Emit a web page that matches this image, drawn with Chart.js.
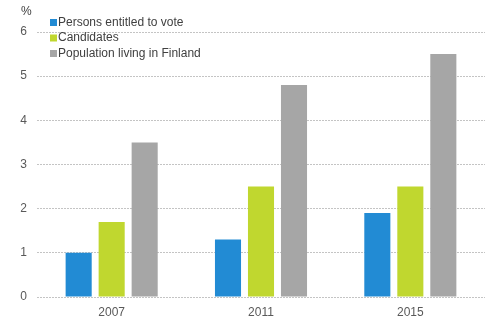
<!DOCTYPE html>
<html lang="en">
<head>
<meta charset="UTF-8">
<script src="https://cdn.jsdelivr.net/npm/chart.js"></script>
<title>Chart</title>
<style>
  html, body { margin: 0; padding: 0; background: #fff; }
  #grafico { width: 499px; height: 321px; }
</style>
</head>
<body>
<div id="grafico"><canvas id="barra" width="499" height="321"></canvas></div>
<script>
var anos = ['2007', '2011', '2015'];
var votantes = [1.0, 1.3, 1.9];
var candidatos = [1.7, 2.5, 2.5];
var populacao = [3.5, 4.8, 5.5];
var nomes = ['Persons entitled to vote', 'Candidates', 'Population living in Finland'];
var cores = ['#228bd4', '#c0d72f', '#a6a6a6'];
var yTicks = [0, 1, 2, 3, 4, 5, 6];

var fonte = "'Liberation Sans', Arial, sans-serif";

// legenda dentro da area do grafico + o "%"
var legendaPlugin = {
    id: 'legendaDentro',
    afterDraw: function (chart) {
        var ctx = chart.ctx;
        ctx.save();
        ctx.font = '12px ' + fonte;
        ctx.textBaseline = 'middle';
        ctx.fillStyle = '#404040';
        ctx.fillText('%', 21, 12);
        chart.data.datasets.forEach(function (ds, i) {
            var y = 22 + i * 15.5;
            ctx.fillStyle = ds.backgroundColor;
            ctx.fillRect(50, y - 3, 7, 7);
            ctx.fillStyle = '#404040';
            ctx.fillText(ds.label, 58, y + 0.5);
        });
        ctx.restore();
    }
};

var ctx = document.getElementById('barra').getContext('2d');
new Chart(ctx, {
    type: 'bar',
    data: {
        labels: anos,
        datasets: [
            { label: nomes[0], data: votantes, backgroundColor: cores[0] },
            { label: nomes[1], data: candidatos, backgroundColor: cores[1] },
            { label: nomes[2], data: populacao, backgroundColor: cores[2] }
        ]
    },
    options: {
        responsive: false,
        animation: false,
        layout: { padding: { top: 32, right: 14, left: 0, bottom: 0 } },
        datasets: { bar: { categoryPercentage: 0.663, barPercentage: 0.79 } },
        plugins: { legend: { display: false }, tooltip: { enabled: false } },
        scales: {
            x: {
                grid: { display: false, drawTicks: false },
                border: { display: false },
                ticks: { color: '#595959', font: { size: 12, family: fonte }, padding: 8 },
                afterFit: function (s) { s.height = 24; }
            },
            y: {
                min: 0, max: 6,
                afterBuildTicks: function (s) { s.ticks = yTicks.map(function (v) { return { value: v }; }); },
                grid: { color: '#c4c4c4', drawTicks: false },
                border: { display: false, dash: [2, 1] },
                ticks: { color: '#595959', font: { size: 12, family: fonte }, padding: 10 },
                afterFit: function (s) { s.width = 37; }
            }
        }
    },
    plugins: [legendaPlugin]
});
</script>
</body>
</html>
